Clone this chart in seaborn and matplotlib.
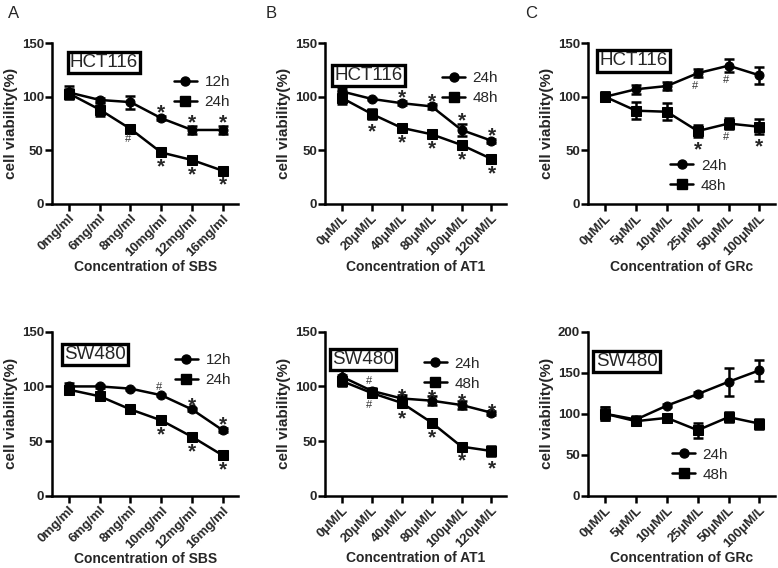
import numpy as np
import pandas as pd
import matplotlib
matplotlib.use('Agg')
import matplotlib.pyplot as plt
import seaborn as sns
from matplotlib.lines import Line2D

sns.set_style('white')
plt.rcParams['font.family'] = ['Liberation Sans', 'DejaVu Sans']
plt.rcParams['font.weight'] = 'bold'

# concentrations
sbs_conc = ['0mg/ml', '6mg/ml', '8mg/ml', '10mg/ml', '12mg/ml', '16mg/ml']
at1_conc = ['0μM/L', '20μM/L', '40μM/L', '80μM/L', '100μM/L', '120μM/L']
grc_conc = ['0μM/L', '5μM/L', '10μM/L', '25μM/L', '50μM/L', '100μM/L']

# HCT116 - SBS
a1_12h = [104, 97, 95, 80, 69, 69]
a1_12h_err = [6, 2, 6, 2, 4, 4]
a1_24h = [103, 88, 70, 48, 41, 31]
a1_24h_err = [4, 6, 2, 2, 2, 2]
# HCT116 - AT1
b1_24h = [105, 98, 94, 91, 69, 59]
b1_24h_err = [3, 1, 2, 2, 6, 2]
b1_48h = [99, 84, 71, 65, 55, 42]
b1_48h_err = [6, 5, 2, 2, 2, 2]
# HCT116 - GRc
c1_24h = [100, 107, 110, 122, 129, 120]
c1_24h_err = [4, 4, 4, 4, 6, 8]
c1_48h = [100, 87, 86, 68, 75, 72]
c1_48h_err = [4, 8, 8, 6, 5, 7]
# SW480 - SBS
a2_12h = [100, 100, 98, 92, 79, 60]
a2_12h_err = [3, 1, 1, 1, 1, 2]
a2_24h = [97, 91, 79, 69, 54, 37]
a2_24h_err = [3, 2, 2, 2, 2, 2]
# SW480 - AT1
b2_24h = [109, 96, 89, 87, 83, 76]
b2_24h_err = [6, 3, 3, 4, 4, 2]
b2_48h = [105, 94, 85, 67, 45, 41]
b2_48h_err = [5, 3, 3, 3, 2, 5]
# SW480 - GRc
c2_24h = [100, 93, 110, 124, 139, 153]
c2_24h_err = [8, 4, 2, 2, 17, 13]
c2_48h = [100, 91, 95, 80, 96, 88]
c2_48h_err = [8, 4, 2, 9, 6, 6]

# significance marks: (series index, point index, symbol, above?)
a1_marks = [(0, 3, '*', True), (0, 4, '*', True), (0, 5, '*', True),
            (1, 2, '#', False), (1, 3, '*', False), (1, 4, '*', False), (1, 5, '*', False)]
b1_marks = [(0, 2, '*', True), (0, 3, '*', True), (0, 4, '*', True), (0, 5, '*', True),
            (1, 1, '*', False), (1, 2, '*', False), (1, 3, '*', False), (1, 4, '*', False), (1, 5, '*', False)]
c1_marks = [(0, 3, '#', False), (0, 4, '#', False),
            (1, 3, '*', False), (1, 4, '#', False), (1, 5, '*', False)]
a2_marks = [(0, 3, '#', True), (0, 4, '*', True), (0, 5, '*', True),
            (1, 3, '*', False), (1, 4, '*', False), (1, 5, '*', False)]
b2_marks = [(0, 1, '#', True), (0, 2, '*', True), (0, 3, '*', True), (0, 4, '*', True), (0, 5, '*', True),
            (1, 1, '#', False), (1, 2, '*', False), (1, 3, '*', False), (1, 4, '*', False), (1, 5, '*', False)]
c2_marks = []

panels = [
    dict(pos=[0.067, 0.641, 0.239, 0.283], cell='HCT116', conc=sbs_conc, drug='SBS', labels=['12h', '24h'],
         data=[(a1_12h, a1_12h_err), (a1_24h, a1_24h_err)], marks=a1_marks, ymax=150,
         leg=(0.655, 0.695), box=(0.095, 0.88), up=2),
    dict(pos=[0.418, 0.641, 0.233, 0.283], cell='HCT116', conc=at1_conc, drug='AT1', labels=['24h', '48h'],
         data=[(b1_24h, b1_24h_err), (b1_48h, b1_48h_err)], marks=b1_marks, ymax=150,
         leg=(0.645, 0.72), box=(0.05, 0.80), up=2),
    dict(pos=[0.756, 0.641, 0.240, 0.283], cell='HCT116', conc=grc_conc, drug='GRc', labels=['24h', '48h'],
         data=[(c1_24h, c1_24h_err), (c1_48h, c1_48h_err)], marks=c1_marks, ymax=150,
         leg=(0.44, 0.175), box=(0.06, 0.89), up=2),
    dict(pos=[0.067, 0.127, 0.239, 0.289], cell='SW480', conc=sbs_conc, drug='SBS', labels=['12h', '24h'],
         data=[(a2_12h, a2_12h_err), (a2_24h, a2_24h_err)], marks=a2_marks, ymax=150,
         leg=(0.66, 0.765), box=(0.065, 0.86), up=2),
    dict(pos=[0.418, 0.127, 0.233, 0.289], cell='SW480', conc=at1_conc, drug='AT1', labels=['24h', '48h'],
         data=[(b2_24h, b2_24h_err), (b2_48h, b2_48h_err)], marks=b2_marks, ymax=150,
         leg=(0.545, 0.745), box=(0.04, 0.83), up=-1),
    dict(pos=[0.756, 0.127, 0.240, 0.289], cell='SW480', conc=grc_conc, drug='GRc', labels=['24h', '48h'],
         data=[(c2_24h, c2_24h_err), (c2_48h, c2_48h_err)], marks=c2_marks, ymax=200,
         leg=(0.45, 0.19), box=(0.04, 0.82), up=2),
]

fig = plt.figure(figsize=(7.78, 5.68), dpi=100)
markers = ['o', 's']

for p in panels:
    ax = fig.add_axes(p['pos'])
    rows = []
    for lab, (vals, errs) in zip(p['labels'], p['data']):
        for i, v in enumerate(vals):
            rows.append({'x': i, 'y': v, 'time': lab})
    df = pd.DataFrame(rows)
    sns.lineplot(data=df, x='x', y='y', style='time', markers=dict(zip(p['labels'], markers)),
                 dashes=False, color='black', linewidth=1.8, markersize=6.5, markeredgecolor='black',
                 legend=False, ax=ax)
    for vals, errs in p['data']:
        ax.errorbar(range(len(vals)), vals, yerr=errs, fmt='none', ecolor='black',
                    elinewidth=1.8, capsize=3.5, capthick=1.8)
    for si, pi, sym, above in p['marks']:
        v = p['data'][si][0][pi]
        e = p['data'][si][1][pi]
        anchor = v + e if above else v - e
        if sym == '*':
            ax.annotate('*', (pi, anchor), xytext=(0, p['up'] if above else -9),
                        textcoords='offset points', ha='center', va='center', fontsize=15, fontweight='bold')
        else:
            ax.annotate('#', (pi - 0.08, anchor), xytext=(0, 5 if above else -6),
                        textcoords='offset points', ha='center', va='center', fontsize=8,
                        fontweight='normal', color='#333333')
    ax.set_xlim(-0.55, 5.5)
    ax.set_ylim(0, p['ymax'])
    ax.set_yticks(np.arange(0, p['ymax'] + 1, 50))
    ax.set_xticks(range(6))
    ax.set_xticklabels(p['conc'], rotation=45, ha='right', rotation_mode='anchor', fontsize=9.5, fontweight='bold')
    for t in ax.get_yticklabels():
        t.set_fontweight('bold')
        t.set_fontsize(9.5)
    sns.despine(ax=ax)
    for s in ['left', 'bottom']:
        ax.spines[s].set_linewidth(1.8)
        ax.spines[s].set_color('black')
    ax.tick_params(axis='both', direction='out', length=5, width=1.8, color='black', pad=1,
                   bottom=True, left=True)
    ax.set_xlabel('Concentration of ' + p['drug'], fontsize=10, fontweight='bold', labelpad=1)
    ax.set_ylabel('cell viability(%)', fontsize=11, fontweight='bold', labelpad=3)
    ax.text(p['box'][0], p['box'][1], p['cell'], transform=ax.transAxes, fontsize=13.5,
            fontweight='normal', va='center', ha='left',
            bbox=dict(boxstyle='square,pad=0.12', facecolor='white', edgecolor='black', linewidth=2.4))
    handles = [Line2D([], [], color='black', marker=m, linewidth=1.8, markersize=6.5) for m in markers]
    ax.legend(handles, p['labels'], loc='center left', bbox_to_anchor=p['leg'], frameon=False,
              borderaxespad=0, borderpad=0, handlelength=1.5, handletextpad=0.5, labelspacing=0.4,
              prop={'size': 11, 'weight': 'normal'})

fig.text(0.010, 0.968, 'A', fontsize=12, fontweight='normal')
fig.text(0.342, 0.968, 'B', fontsize=12, fontweight='normal')
fig.text(0.675, 0.968, 'C', fontsize=12, fontweight='normal')

fig.savefig('out.png', dpi=100)
